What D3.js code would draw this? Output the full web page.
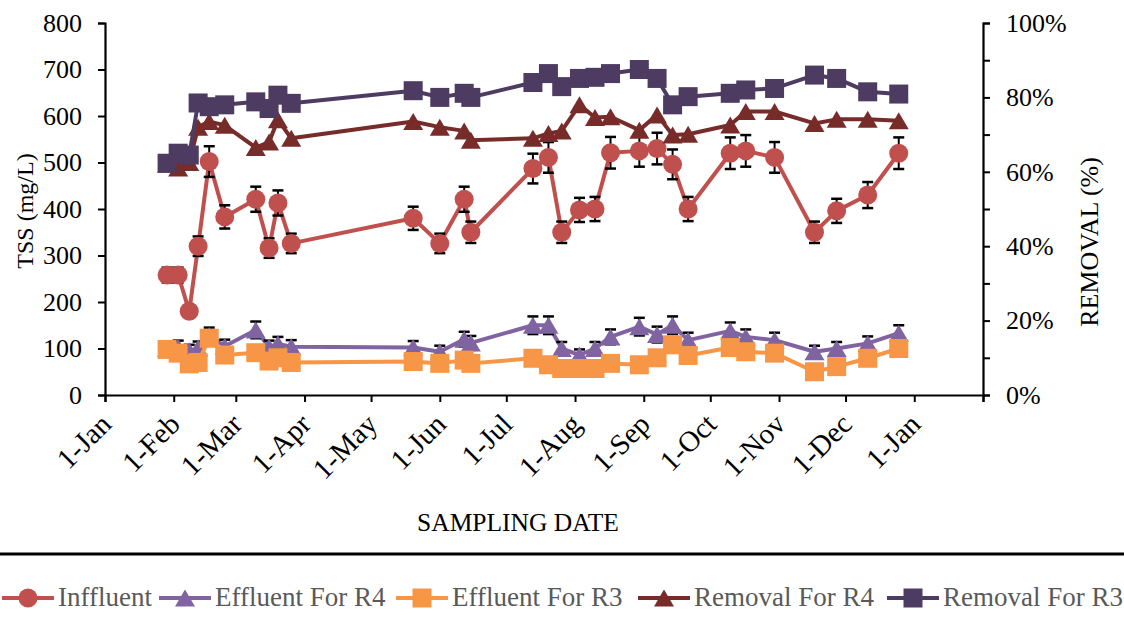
<!DOCTYPE html>
<html>
<head>
<meta charset="utf-8">
<script src="https://cdn.jsdelivr.net/npm/d3@7"></script>
<style>
  body { margin: 0; background: #fff; }
  svg { display: block; font-family: "Liberation Serif", "Times New Roman", serif; }
</style>
</head>
<body>
<svg width="1124" height="639"></svg>
<script>
// sampling dates (2015)
var dates = ["2015-01-29","2015-02-03","2015-02-08","2015-02-12","2015-02-17","2015-02-24",
  "2015-03-10","2015-03-16","2015-03-20","2015-03-26","2015-05-20","2015-06-01","2015-06-12",
  "2015-06-15","2015-07-13","2015-07-20","2015-07-26","2015-08-03","2015-08-10","2015-08-17",
  "2015-08-30","2015-09-07","2015-09-14","2015-09-21","2015-10-10","2015-10-17","2015-10-30",
  "2015-11-17","2015-11-27","2015-12-11","2015-12-25"];

// TSS mg/L
var influent = [258, 258, 180, 320, 502, 383, 421, 316, 413, 326, 380, 326, 421, 350, 487, 511,
  350, 398, 400, 521, 525, 530, 496, 400, 520, 525, 511, 350, 396, 430, 520];
var influentErr = [16, 16, 12, 21, 33, 25, 27, 21, 27, 21, 25, 21, 27, 23, 32, 33,
  23, 26, 26, 34, 34, 34, 32, 26, 34, 34, 33, 23, 26, 28, 34];
var effR4 = [100, 103, 95, 101, 128, 105, 140, 103, 110, 104, 102, 93, 120, 112, 150, 150,
  100, 86, 100, 125, 147, 130, 150, 118, 138, 125, 118, 93, 100, 111, 133];
var effR4Err = [14, 14, 13, 14, 17, 14, 18, 14, 15, 14, 14, 13, 16, 15, 19, 19,
  14, 12, 14, 16, 19, 17, 19, 16, 18, 16, 16, 13, 14, 15, 17];
var effR3 = [98, 90, 67, 70, 122, 86, 91, 73, 80, 70, 72, 68, 75, 68, 79, 65,
  57, 57, 57, 68, 65, 80, 108, 85, 102, 93, 90, 50, 61, 79, 100];

// removal %
var remR4 = [62, 61, 62.5, 72, 73.5, 72.5, 66.5, 68, 74, 69, 73.5, 72, 71, 68.5, 69, 70.3,
  71, 78, 74.6, 74.8, 71.2, 75.3, 69.9, 70.1, 72.6, 76.2, 76.2, 73, 74.1, 74.1, 73.7];
var remR3 = [62.3, 65, 64.5, 78.5, 77.5, 78, 78.8, 77, 80.6, 78.4, 81.8, 80, 81.1, 80, 84, 86.4,
  82.9, 85.1, 85.4, 86.4, 87.5, 85.1, 78, 80.2, 81.1, 82, 82.4, 86, 85.1, 81.5, 80.9];

var yTicks = [0, 100, 200, 300, 400, 500, 600, 700, 800];
var y2Ticks = [0, 10, 20, 30, 40, 50, 60, 70, 80, 90, 100];
var legendNames = ["Inffluent", "Effluent For R4", "Effluent For R3", "Removal For R4", "Removal For R3"];

var svg = d3.select("svg");
var parse = d3.timeParse("%Y-%m-%d");
var fmt = d3.timeFormat("%-d-%b");

// plot box
var pL = 105, pR = 983, pT = 23, pB = 395;

var x = d3.scaleTime().domain([parse("2015-01-01"), parse("2016-02-01")]).range([pL, pR]);
var y = d3.scaleLinear().domain([0, 800]).range([pB, pT]);
var y2 = d3.scaleLinear().domain([0, 100]).range([pB, pT]);

// axes
var xAxis = d3.axisBottom(x)
  .tickValues(d3.timeMonth.range(parse("2015-01-01"), parse("2016-02-02")))
  .tickSize(7).tickFormat("");
var gx = svg.append("g").attr("transform", "translate(0," + pB + ")").call(xAxis);

var gy = svg.append("g").attr("transform", "translate(" + pL + ",0)")
  .call(d3.axisLeft(y).tickValues(yTicks).tickSize(7).tickPadding(16));

var gy2 = svg.append("g").attr("transform", "translate(" + pR + ",0)")
  .call(d3.axisRight(y2).tickValues(y2Ticks).tickSize(7).tickPadding(16)
    .tickFormat(function (d) { return d % 20 == 0 ? d + "%" : ""; }));

[gx, gy, gy2].forEach(function (g) {
  g.attr("font-family", null).attr("font-size", null);
  g.selectAll("path").attr("stroke", "#000").attr("stroke-width", 2.2);
  g.selectAll("line").attr("stroke", "#000").attr("stroke-width", 2);
  g.selectAll("text").attr("fill", "#000").style("font-size", "26px");
});

// rotated month labels
var months = d3.timeMonth.range(parse("2015-01-01"), parse("2016-01-02"));
svg.append("g").selectAll("text").data(months).enter().append("text")
  .attr("transform", function (d) { return "translate(" + (x(d) + 8) + "," + (pB + 31) + ") rotate(-45)"; })
  .attr("text-anchor", "end")
  .style("font-size", "29px")
  .text(function (d) { return fmt(d); });

// axis titles
svg.append("text").attr("transform", "translate(33,211) rotate(-90)")
  .attr("text-anchor", "middle").style("font-size", "24px").text("TSS (mg/L)");
svg.append("text").attr("transform", "translate(1098,242) rotate(-90)")
  .attr("text-anchor", "middle").style("font-size", "26px").text("REMOVAL (%)");
svg.append("text").attr("x", 518).attr("y", 531)
  .attr("text-anchor", "middle").style("font-size", "25.5px").text("SAMPLING DATE");

// marker shapes
function marker(sel, shape, color) {
  if (shape == "circle") {
    sel.append("circle").attr("r", 9.5).attr("fill", color);
  } else if (shape == "square") {
    sel.append("rect").attr("x", -9.5).attr("y", -9.5).attr("width", 19).attr("height", 19).attr("fill", color);
  } else {
    sel.append("path").attr("d", "M0,-8.5L10,8.5L-10,8.5Z").attr("fill", color);
  }
}

var series = [
  { name: legendNames[0], vals: influent, err: influentErr, scale: y, color: "#C0504D", shape: "circle" },
  { name: legendNames[1], vals: effR4, err: effR4Err, scale: y, color: "#8064A2", shape: "triangle" },
  { name: legendNames[2], vals: effR3, err: null, scale: y, color: "#F79646", shape: "square" },
  { name: legendNames[3], vals: remR4, err: null, scale: y2, color: "#772C2A", shape: "triangle" },
  { name: legendNames[4], vals: remR3, err: null, scale: y2, color: "#4E3B62", shape: "square" }
];

series.forEach(function (s) {
  var pts = dates.map(function (d, i) { return { t: parse(d), v: s.vals[i], e: s.err ? s.err[i] : 0 }; });
  var g = svg.append("g");

  var line = d3.line().x(function (d) { return x(d.t); }).y(function (d) { return s.scale(d.v); });
  g.append("path").datum(pts).attr("d", line)
    .attr("fill", "none").attr("stroke", s.color).attr("stroke-width", 4).attr("stroke-linejoin", "round");

  // error bars
  if (s.err) {
    var eb = g.selectAll(".eb").data(pts).enter().append("g").attr("class", "eb");
    eb.append("line")
      .attr("x1", function (d) { return x(d.t); }).attr("x2", function (d) { return x(d.t); })
      .attr("y1", function (d) { return s.scale(d.v - d.e); }).attr("y2", function (d) { return s.scale(d.v + d.e); })
      .attr("stroke", "#000").attr("stroke-width", 2);
    [-1, 1].forEach(function (k) {
      eb.append("line")
        .attr("x1", function (d) { return x(d.t) - 5.5; }).attr("x2", function (d) { return x(d.t) + 5.5; })
        .attr("y1", function (d) { return s.scale(d.v + k * d.e); }).attr("y2", function (d) { return s.scale(d.v + k * d.e); })
        .attr("stroke", "#000").attr("stroke-width", 2.5);
    });
  }

  var m = g.selectAll(".m").data(pts).enter().append("g")
    .attr("transform", function (d) { return "translate(" + x(d.t) + "," + s.scale(d.v) + ")"; });
  marker(m, s.shape, s.color);
});

// legend
svg.append("line").attr("x1", 0).attr("x2", 1124).attr("y1", 554).attr("y2", 554)
  .attr("stroke", "#000").attr("stroke-width", 3);

var legendX = [2, 159, 396, 638, 887];
var lg = svg.append("g").selectAll("g").data(series).enter().append("g")
  .attr("transform", function (d, i) { return "translate(" + legendX[i] + ",598)"; });
lg.append("line").attr("x1", 0).attr("x2", 52).attr("stroke", function (d) { return d.color; }).attr("stroke-width", 4);
lg.each(function (d) {
  var mg = d3.select(this).append("g").attr("transform", "translate(26,0)");
  marker(mg, d.shape, d.color);
});
lg.append("text").attr("x", 56).attr("y", 8).style("font-size", "27px").attr("fill", "#595959")
  .text(function (d) { return d.name; });
</script>
</body>
</html>
